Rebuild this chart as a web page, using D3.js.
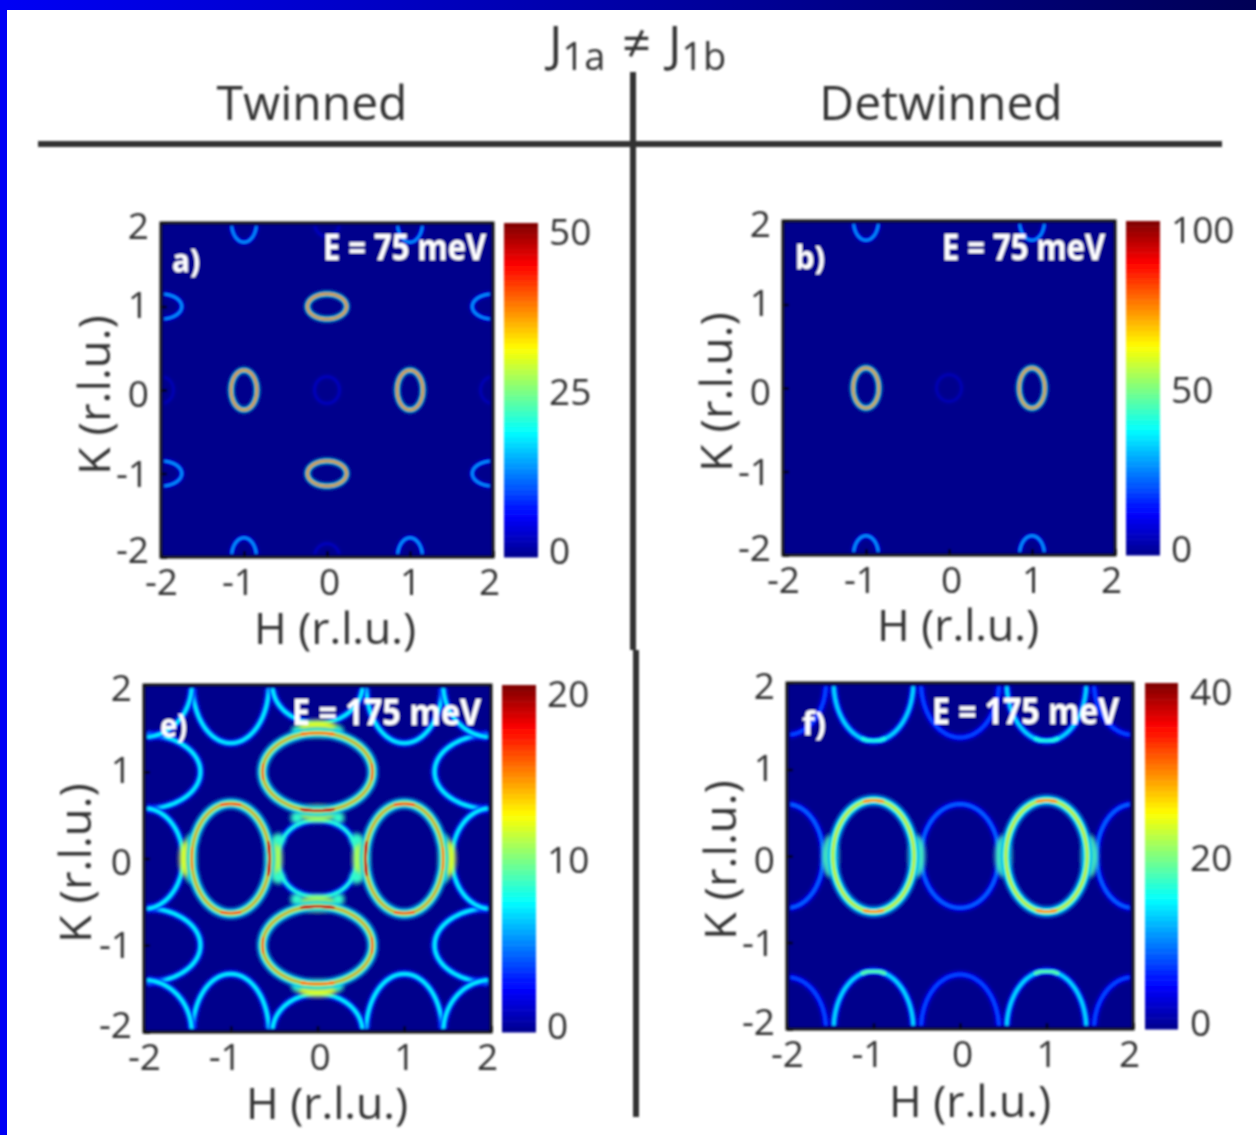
<!DOCTYPE html>
<html lang="en">
	<head>
		<meta charset="utf-8">
		<title>J1a != J1b</title>
		<script type="text/javascript" src="https://d3js.org/d3.v7.min.js"></script>
		<style type="text/css">
            html,body{margin:0;padding:0;background:#fff;}
            svg{display:block;}
            text{font-family:"Open Sans",sans-serif;fill:#333;}
            text.white{fill:#fff;font-weight:700;}
		</style>
	</head>
	<body>
		<div id="chart"></div>
		<script type="text/javascript">
            //ticks
            var hTicks = [-2,-1,0,1,2]
            var kTicks = [-2,-1,0,1,2]

            //jet colormap, as stops between 0 and 1
            var jetStops = [0,0.125,0.375,0.625,0.875,1]
            var jetColors = ["#00008c","#0000ff","#00ffff","#ffff00","#ff0000","#7c0000"]

            //every ring is h, k, radius in h, radius in k, intensity, (optional) squareness
            var ringsA = [
                [-1,0,.155,.237,40],[1,0,.155,.237,40],[0,1,.235,.15,40],[0,-1,.235,.15,40],
                [-2,1,.25,.15,15],[2,1,.25,.15,15],[-2,-1,.25,.15,15],[2,-1,.25,.15,15],
                [-1,2,.15,.23,15],[1,2,.15,.23,15],[-1,-2,.15,.23,15],[1,-2,.15,.23,15],
                [0,0,.15,.16,3],[-2,0,.15,.16,2.5],[2,0,.15,.16,2.5],[0,-2,.15,.16,3],[0,2,.15,.16,3]
            ]
            var ringsB = [
                [-1,0,.155,.24,78],[1,0,.155,.24,78],
                [-1,2,.15,.23,30],[1,2,.15,.23,30],[-1,-2,.15,.23,30],[1,-2,.15,.23,30],
                [0,0,.15,.16,5]
            ]
            var ringsE = [
                [-1,0,.45,.635,14.5],[1,0,.45,.635,14.5],[0,1,.635,.45,14.5],[0,-1,.635,.45,14.5],
                [-1,2,.44,.67,7.5],[1,2,.44,.67,7.5],[-1,-2,.44,.67,7.5],[1,-2,.44,.67,7.5],
                [-2,1,.65,.43,7.5],[2,1,.65,.43,7.5],[-2,-1,.65,.43,7.5],[2,-1,.65,.43,7.5],
                [-2,0,.45,.58,7.5],[2,0,.45,.58,7.5],[0,2,.52,.44,7.5],[0,-2,.52,.44,7.5],
                [-2,-2,.55,.6,7.5],[2,-2,.55,.6,7.5],[-2,2,.55,.6,7.5],[2,2,.55,.6,7.5],
                [0,0,.45,.44,8,2.2]
            ]
            var ringsF = [
                [-1,0,.47,.645,26],[1,0,.47,.645,26],
                [-1,2,.46,.67,14],[1,2,.46,.67,14],[-1,-2,.46,.67,14],[1,-2,.46,.67,14],
                [0,0,.45,.6,9],[-2,0,.42,.6,9],[2,0,.42,.6,9],
                [0,2,.45,.63,8],[0,-2,.45,.63,8],
                [-2,2,.45,.6,8],[2,2,.45,.6,8],[-2,-2,.45,.6,8],[2,-2,.45,.6,8]
            ]

            //brighter stretches of a ring: h, k, rh, rk, start angle, end angle, intensity
            var hotE = [
                [-1,0,.45,.635,-18,18,18.5],[1,0,.45,.635,162,198,18.5],
                [-1,0,.45,.635,168,192,15],[1,0,.45,.635,-12,12,15],
                [0,1,.635,.45,252,288,18.5],[0,-1,.635,.45,72,108,18.5],
                [0,1,.635,.45,72,108,15],[0,-1,.635,.45,252,288,15],
                [-1,0,.45,.635,75,105,16],[1,0,.45,.635,75,105,16],
                [-1,0,.45,.635,255,285,16],[1,0,.45,.635,255,285,16],
                [0,1,.635,.45,168,192,16],[0,-1,.635,.45,168,192,16],
                [0,1,.635,.45,-12,12,16],[0,-1,.635,.45,-12,12,16]
            ]
            var hotF = [
                [-1,0,.47,.645,75,105,29],[1,0,.47,.645,75,105,29],
                [-1,0,.47,.645,255,285,29],[1,0,.47,.645,255,285,29],
                [-1,-2,.46,.67,72,108,18],[1,-2,.46,.67,72,108,18],
                [-1,2,.46,.67,252,288,16],[1,2,.46,.67,252,288,16]
            ]

            //soft spots where rings cross: h, k, rh, rk, intensity
            var glowE = [
                [-.5,0,.09,.24,11],[.5,0,.09,.24,11],[0,.52,.24,.09,11],[0,-.52,.24,.09,11],
                [-1.5,0,.09,.22,12],[1.5,0,.09,.22,12],[0,1.5,.24,.09,12],[0,-1.5,.24,.09,12],
                [-.45,-.22,.07,.07,8.5],[.45,-.22,.07,.07,8.5],[-.45,.22,.07,.07,8.5],[.45,.22,.07,.07,8.5],
                [-.24,-.47,.07,.07,8.5],[.24,-.47,.07,.07,8.5],[-.24,.47,.07,.07,8.5],[.24,.47,.07,.07,8.5],
                [-1.45,-.22,.06,.06,8.5],[1.45,-.22,.06,.06,8.5],[-1.45,.22,.06,.06,8.5],[1.45,.22,.06,.06,8.5],
                [-.24,-1.47,.06,.06,8.5],[.24,-1.47,.06,.06,8.5],[-.24,1.47,.06,.06,8.5],[.24,1.47,.06,.06,8.5]
            ]
            var glowF = [
                [-.5,0,.09,.24,18],[.5,0,.09,.24,18],[-1.5,0,.09,.24,18],[1.5,0,.09,.24,18]
            ]

            var panels = [
                {name:"a)",energy:"E = 75 meV",vmax:50,cTicks:[0,25,50],rings:ringsA,hot:[],glow:[],lw:1.6,
                 x0:161,x1:493,y0:223,y1:557,bar:[504,538],barLabel:549,
                 nameAt:[172,272],nameW:28,eAt:[323,259],eW:163,hLabel:[335,644],kLabel:[110,395]},
                {name:"b)",energy:"E = 75 meV",vmax:100,cTicks:[0,50,100],rings:ringsB,hot:[],glow:[],lw:1.6,
                 x0:783,x1:1115,y0:221,y1:555,bar:[1126,1160],barLabel:1171,
                 nameAt:[795,269],nameW:30,eAt:[942,259],eW:163,hLabel:[958,641],kLabel:[732,392]},
                {name:"e)",energy:"E = 175 meV",vmax:20,cTicks:[0,10,20],rings:ringsE,hot:hotE,glow:glowE,lw:3.4,
                 x0:144,x1:491,y0:685,y1:1032,bar:[502,536],barLabel:547,
                 nameAt:[160,737],nameW:27,eAt:[292,724],eW:189,hLabel:[327,1119],kLabel:[91,863]},
                {name:"f)",energy:"E = 175 meV",vmax:40,cTicks:[0,20,40],rings:ringsF,hot:hotF,glow:glowF,lw:3.4,
                 x0:787,x1:1133,y0:683,y1:1029,bar:[1145,1178],barLabel:1190,
                 nameAt:[802,735],nameW:24,eAt:[932,723],eW:187,hLabel:[970,1117],kLabel:[736,860]}
            ]

            //width and share of the intensity for the layers of one ring
            var ringLayers = [
                {w:3,f:.42,blur:"url(#soft)",op:1},
                {w:1.9,f:.62,blur:"url(#soft1)",op:1},
                {w:1,f:1,blur:"url(#soft1)",op:.7}
            ]

            //offsets of the tick labels, they do not sit exactly on their ticks
            var hLabelShift = {"-2":0,"-1":-6,"0":2,"1":0,"2":-4}
            var kLabelShift = {"-2":".15em","-1":".34em","0":".44em","1":".3em","2":".41em"}

            var svg = d3.select("#chart")
                        .append("svg")
                        .attr("width",1256)
                        .attr("height",1135)

            var defs = svg.append("defs")
            var grad = defs.append("linearGradient").attr("id","topBand")
            grad.append("stop").attr("offset","0%").attr("stop-color","#0000f5")
            grad.append("stop").attr("offset","100%").attr("stop-color","#000055")
            defs.append("filter").attr("id","soft").attr("x","-20%").attr("y","-20%").attr("width","140%").attr("height","140%")
                .append("feGaussianBlur").attr("stdDeviation",1.5)
            defs.append("filter").attr("id","soft1").attr("x","-20%").attr("y","-20%").attr("width","140%").attr("height","140%")
                .append("feGaussianBlur").attr("stdDeviation",.6)
            defs.append("filter").attr("id","glow").attr("x","-150%").attr("y","-150%").attr("width","400%").attr("height","400%")
                .append("feGaussianBlur").attr("stdDeviation",2.2)
            defs.append("filter").attr("id","page").attr("filterUnits","userSpaceOnUse")
                .attr("x",0).attr("y",0).attr("width",1256).attr("height",1135)
                .append("feGaussianBlur").attr("stdDeviation",.9)

            //the slide border
            svg.append("rect").attr("x",0).attr("y",0).attr("width",1256).attr("height",10).attr("fill","url(#topBand)")
            svg.append("rect").attr("x",0).attr("y",0).attr("width",7).attr("height",1135).attr("fill","#0000f5")

            var page = svg.append("g").attr("filter","url(#page)")

            //header
            var title = page.append("text").attr("x",549).attr("y",61).attr("font-size",50)
            title.append("tspan").text("J")
            title.append("tspan").attr("font-size",38).attr("dy",9).text("1a")
            title.append("tspan").attr("dy",-9).attr("dx",17).text("≠")
            title.append("tspan").attr("dx",17).text("J")
            title.append("tspan").attr("font-size",38).attr("dy",9).text("1b")
            page.append("text").attr("x",312).attr("y",120).attr("text-anchor","middle").attr("font-size",48).text("Twinned")
            page.append("text").attr("x",941).attr("y",120).attr("text-anchor","middle").attr("font-size",48).text("Detwinned")

            page.append("line").attr("x1",38).attr("x2",1222).attr("y1",144).attr("y2",144).attr("stroke","#333").attr("stroke-width",6)
            page.append("line").attr("x1",633).attr("x2",633).attr("y1",72).attr("y2",650).attr("stroke","#333").attr("stroke-width",6)
            page.append("line").attr("x1",636).attr("x2",636).attr("y1",650).attr("y2",1117).attr("stroke","#333").attr("stroke-width",6)

            panels.forEach(drawPanel)

            //this function draws one map with its colorbar and labels
            function drawPanel(p,n){
                var xScale = d3.scaleLinear().domain([-2,2]).range([p.x0,p.x1])
                var yScale = d3.scaleLinear().domain([-2,2]).range([p.y1,p.y0])
                var cScale = d3.scaleLinear()
                    .domain(jetStops.map(function(s){return s*p.vmax}))
                    .range(jetColors)
                    .clamp(true)

                function ringPath(h,k,rh,rk,a0,a1,sq){
                    var e = 2/(sq||2)
                    var line = d3.line()
                        .x(function(a){
                            var c = Math.cos(a*Math.PI/180)
                            return xScale(h+rh*Math.sign(c)*Math.pow(Math.abs(c),e))
                        })
                        .y(function(a){
                            var s = Math.sin(a*Math.PI/180)
                            return yScale(k+rk*Math.sign(s)*Math.pow(Math.abs(s),e))
                        })
                    return line(d3.range(a0,a1+.5,3))
                }

                defs.append("clipPath").attr("id","clip"+n)
                    .append("rect")
                    .attr("x",xScale(-1.96)).attr("y",yScale(1.96))
                    .attr("width",xScale(1.96)-xScale(-1.96))
                    .attr("height",yScale(-1.96)-yScale(1.96))

                var g = page.append("g")
                g.append("rect")
                    .attr("x",p.x0).attr("y",p.y0)
                    .attr("width",p.x1-p.x0).attr("height",p.y1-p.y0)
                    .attr("fill",cScale(0))

                var marks = g.append("g").attr("clip-path","url(#clip"+n+")")

                function addRings(list,factor,coreOpacity){
                    list.slice().sort(function(a,b){return a[4]-b[4]}).forEach(function(r){
                        ringLayers.forEach(function(l,i){
                            marks.append("path")
                                .attr("d",ringPath(r[0],r[1],r[2],r[3],0,360,r[5]))
                                .attr("fill","none")
                                .attr("stroke",cScale(r[4]*l.f))
                                .attr("stroke-width",l.w*p.lw*factor)
                                .attr("opacity",i==2 ? coreOpacity : l.op)
                                .attr("filter",l.blur)
                        })
                    })
                }

                //weak rings go under the crossing glows, strong rings on top
                addRings(p.rings.filter(function(r){return r[4]<p.vmax*.5}),p.lw>2 ? .72 : .9,1)
                marks.selectAll("ellipse.glow")
                    .data(p.glow)
                    .enter()
                    .append("ellipse")
                    .attr("class","glow")
                    .attr("cx",function(d){return xScale(d[0])})
                    .attr("cy",function(d){return yScale(d[1])})
                    .attr("rx",function(d){return xScale(d[2])-xScale(0)})
                    .attr("ry",function(d){return yScale(0)-yScale(d[3])})
                    .attr("fill",function(d){return cScale(d[4])})
                    .attr("filter","url(#glow)")
                addRings(p.rings.filter(function(r){return r[4]>=p.vmax*.5}),1,p.lw>2 ? .7 : .95)

                marks.selectAll("path.hot")
                    .data(p.hot)
                    .enter()
                    .append("path")
                    .attr("class","hot")
                    .attr("d",function(d){return ringPath(d[0],d[1],d[2],d[3],d[4],d[5])})
                    .attr("fill","none")
                    .attr("stroke",function(d){return cScale(d[6])})
                    .attr("stroke-width",1.05*p.lw)
                    .attr("filter","url(#soft1)")

                //axes, the ticks point into the map
                var xAxis = d3.axisBottom(xScale).tickValues(hTicks).tickFormat(String).tickSizeInner(-6).tickSizeOuter(0).tickPadding(12)
                var yAxis = d3.axisLeft(yScale).tickValues(kTicks).tickFormat(String).tickSizeInner(-6).tickSizeOuter(0).tickPadding(12)
                var gx = g.append("g").attr("transform","translate(0,"+p.y1+")").call(xAxis)
                var gy = g.append("g").attr("transform","translate("+p.x0+",0)").call(yAxis)
                ;[gx,gy].forEach(function(a){
                    a.select(".domain").remove()
                    a.selectAll("line").attr("stroke","#000").attr("stroke-width",2.5)
                    a.selectAll("text").attr("font-size",37).attr("font-family",null).style("font-family",'"Open Sans",sans-serif')
                })
                gx.selectAll(".tick text").attr("dx",function(d){return hLabelShift[d]})
                gy.selectAll(".tick text").attr("dy",function(d){return kLabelShift[d]})

                g.append("rect")
                    .attr("x",p.x0).attr("y",p.y0)
                    .attr("width",p.x1-p.x0).attr("height",p.y1-p.y0)
                    .attr("fill","none").attr("stroke","#111").attr("stroke-width",3)

                //colorbar, drawn as 64 flat levels
                var levels = d3.range(64)
                var barScale = d3.scaleBand().domain(levels).range([p.y1,p.y0])
                g.selectAll("rect.level")
                    .data(levels)
                    .enter()
                    .append("rect")
                    .attr("class","level")
                    .attr("x",p.bar[0])
                    .attr("y",function(d){return barScale(d)})
                    .attr("width",p.bar[1]-p.bar[0])
                    .attr("height",barScale.bandwidth()+.5)
                    .attr("fill",function(d){return cScale((d+.5)/64*p.vmax)})

                //the end labels of the bar sit inside its ends
                var labelScale = d3.scaleLinear().domain([0,p.vmax]).range([p.y1-6,p.y0+9])
                g.selectAll("text.cb")
                    .data(p.cTicks)
                    .enter()
                    .append("text")
                    .attr("class","cb")
                    .attr("x",p.barLabel)
                    .attr("y",function(d){return labelScale(d)})
                    .attr("dy",".36em")
                    .attr("font-size",37)
                    .text(String)

                g.append("text").attr("x",p.hLabel[0]).attr("y",p.hLabel[1]).attr("text-anchor","middle").attr("font-size",44)
                    .attr("textLength",162).attr("lengthAdjust","spacingAndGlyphs").text("H (r.l.u.)")
                g.append("text").attr("transform","translate("+p.kLabel[0]+","+p.kLabel[1]+") rotate(-90)").attr("text-anchor","middle").attr("font-size",44)
                    .attr("textLength",160).attr("lengthAdjust","spacingAndGlyphs").text("K (r.l.u.)")

                g.append("text").attr("class","white").attr("x",p.nameAt[0]).attr("y",p.nameAt[1]).attr("font-size",33)
                    .attr("textLength",p.nameW).attr("lengthAdjust","spacingAndGlyphs").text(p.name)
                g.append("text").attr("class","white").attr("x",p.eAt[0]).attr("y",p.eAt[1]+1).attr("font-size",36)
                    .attr("textLength",p.eW).attr("lengthAdjust","spacingAndGlyphs").text(p.energy)
            }
        </script>
	</body>
</html>
